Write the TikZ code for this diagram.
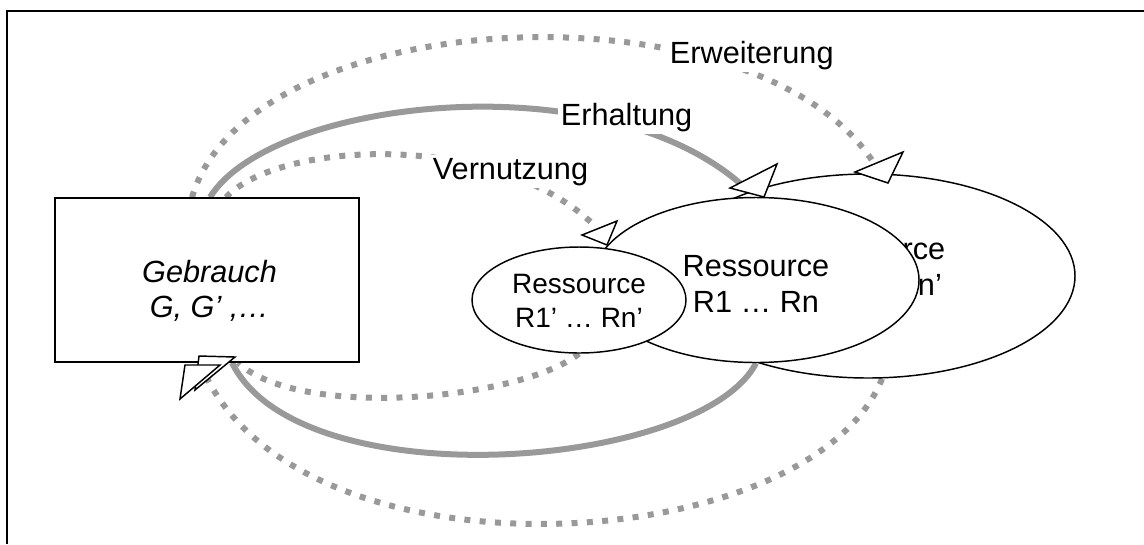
\documentclass[tikz,border=0pt]{standalone}
\usepackage{fontspec}
\setmainfont{Liberation Sans}
\usetikzlibrary{shapes.geometric,calc}
\definecolor{arcgray}{RGB}{153,153,153}
\pgfdeclarelayer{bg}
\pgfsetlayers{bg,main}
\begin{document}
\begin{tikzpicture}[x=0.75pt,y=-0.75pt,
  shapeline/.style={draw=black,fill=white,line width=1.1pt,inner sep=0pt},
  arcsolid/.style={draw=arcgray,line width=4.5pt},
  arcdots/.style={draw=arcgray,line width=4.5pt,dash pattern=on 4.5pt off 7pt},
  head/.style={draw=black,fill=white,line width=1.1pt,line join=miter},
  txt/.style={align=center,inner sep=0pt,font=\fontsize{23}{27}\selectfont},
  smalltxt/.style={align=center,inner sep=0pt,font=\fontsize{21}{25}\selectfont},
  lbl/.style={fill=white,inner sep=2pt,anchor=base west,font=\fontsize{23}{27}\selectfont},
  frameline/.style={draw=black,line width=1.5pt}]
\useasboundingbox (0,0) rectangle (1144,544);
% frame
\coordinate (fbl) at (7,544);
\coordinate (ftl) at (7,11);
\coordinate (ftr) at (1144,11);
\draw[frameline] (fbl) -- (ftl) -- (ftr);
% resources
\node[shapeline,ellipse,minimum width=310.5pt,minimum height=153pt] (rbig) at (868,276) {};
\node[txt] (rbigt) at (872,266.5) {Ressource\\R1’ … Rn’};
\node[shapeline,ellipse,minimum width=244.5pt,minimum height=123.75pt] (rmid) at (756,280) {};
\node[txt] (rmidt) at (756,284) {Ressource\\R1 … Rn};
\node[shapeline,ellipse,minimum width=160.5pt,minimum height=79.5pt] (rsmall) at (579,300) {};
\node[smalltxt] (rsmallt) at (579,301) {Ressource\\R1’ … Rn’};
% use
\node[shapeline,rectangle,minimum width=228pt,minimum height=123pt] (geb) at (207,280) {};
\node[txt,font=\fontsize{23}{26.25}\selectfont\itshape] (gebt) at (209.5,290.5) {Gebrauch\\G, G’ ,…};
% arc end points
\coordinate (wEnd) at (875,165);
\coordinate (hEnd) at (742,185);
\coordinate (vEnd) at (597,228);
\begin{pgfonlayer}{bg}
\draw[arcdots] ($(geb.north)+(-15,0)$) .. controls (250,0) and (760,-20) .. (wEnd);
\draw[arcsolid] ($(geb.north)+(3,0)$) .. controls (270,100) and (600,60) .. (hEnd);
\draw[arcdots] ($(geb.north)+(19,0)$) .. controls (280,140) and (500,130) .. (vEnd);
\draw[arcdots] ($(rbig.south)+(14,0)$) .. controls (810,560) and (290,590) .. ($(geb.south)+(-7,0)$);
\draw[arcsolid] (rmid.south) .. controls (700,470) and (300,500) .. ($(geb.south)+(25,0)$);
\draw[arcdots] (rsmall.south) .. controls (520,400) and (300,420) .. ($(geb.south)+(31,0)$);
\end{pgfonlayer}
% arrowheads
\draw[head] (582,235) -- (617,221) -- (607,245) -- cycle;
\draw[head] (730,188) -- (777,164) -- (764,197) -- cycle;
\draw[head] (855,172) -- (903,152) -- (888,183) -- cycle;
\draw[head] (199,356) -- (235,357) -- (195,390) -- cycle;
\draw[head] (185,365) -- (220,365) -- (180,399) -- cycle;
% labels
\node[lbl] (lw) at (667,63) {Erweiterung};
\node[lbl] (lh) at (558,125) {Erhaltung};
\node[lbl] (lv) at (430,179) {Vernutzung};
\end{tikzpicture}
\end{document}
